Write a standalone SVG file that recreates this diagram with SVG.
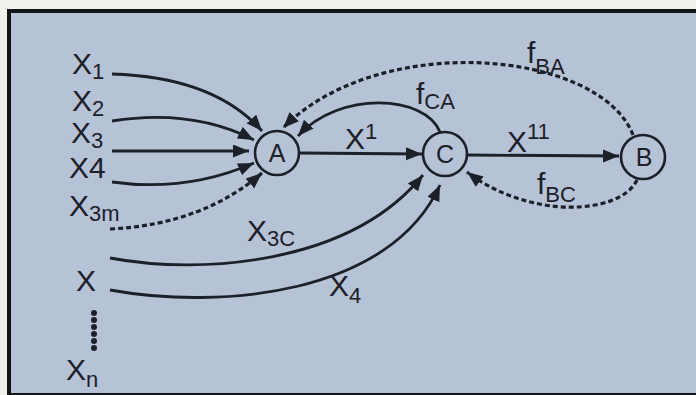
<svg xmlns="http://www.w3.org/2000/svg" width="696" height="395" viewBox="0 0 696 395">
<defs>
<style>
.ln{fill:none;stroke:#1c2029;stroke-width:2.8}
.ds{fill:none;stroke:#1c2029;stroke-width:3.2;stroke-dasharray:5 3}
.nd{fill:none;stroke:#1c2029;stroke-width:2.6}
text{font-family:"Liberation Sans",Arial,sans-serif;fill:#1c2029;font-size:30px}
.sb{font-size:22px}
.cl{font-size:25px;text-anchor:middle}
</style>
<marker id="ah" markerUnits="userSpaceOnUse" markerWidth="18" markerHeight="14" refX="16" refY="6.5" orient="auto">
<path d="M0,0 L16,6.5 L0,13 Z" fill="#1c2029"/>
</marker>
</defs>
<rect x="0" y="0" width="696" height="395" fill="#f3f1ec"/>
<rect x="9" y="11" width="700" height="384" fill="#b6c2d5" stroke="#141518" stroke-width="4"/>

<g id="connectors">
<path class="ln" d="M112,74 C180,76 230,95 262,131" marker-end="url(#ah)"/>
<path class="ln" d="M112,121 C170,112 215,120 254,140" marker-end="url(#ah)"/>
<path class="ln" d="M112,151 L249,151" marker-end="url(#ah)"/>
<path class="ln" d="M112,182 C170,190 215,180 254,163" marker-end="url(#ah)"/>
<path class="ds" d="M110,229 C175,226 225,205 262,173" marker-end="url(#ah)"/>
<path class="ln" d="M300,153 L422,154" marker-end="url(#ah)"/>
<path class="ln" d="M440,132 C425,95 340,90 298,136" marker-end="url(#ah)"/>
<path class="ds" d="M633,135 C600,50 380,30 283,128" marker-end="url(#ah)"/>
<path class="ln" d="M467,155 L619,156" marker-end="url(#ah)"/>
<path class="ds" d="M637,180 C620,215 530,220 467,172" marker-end="url(#ah)"/>
<path class="ln" d="M110,258 C200,275 350,265 423,175" marker-end="url(#ah)"/>
<path class="ln" d="M110,290 C220,310 390,295 440,185" marker-end="url(#ah)"/>
</g>

<g id="node-A"><circle class="nd" cx="277" cy="153" r="22"/><text class="cl" x="277" y="162">A</text></g>
<g id="node-C"><circle class="nd" cx="445" cy="154" r="22"/><text class="cl" x="445" y="163">C</text></g>
<g id="node-B"><circle class="nd" cx="643" cy="157" r="22"/><text class="cl" x="644" y="166">B</text></g>

<g id="labels">
<text x="72" y="74">X<tspan class="sb" dy="5">1</tspan></text>
<text x="72" y="111">X<tspan class="sb" dy="5">2</tspan></text>
<text x="71" y="143">X<tspan class="sb" dy="5">3</tspan></text>
<text x="69" y="178">X4</text>
<text x="69" y="216">X<tspan class="sb" dy="5">3m</tspan></text>
<text x="247" y="241">X<tspan class="sb" dy="5">3C</tspan></text>
<text x="329" y="296">X<tspan class="sb" dy="7">4</tspan></text>
<text x="76" y="291">X</text>
<text x="66" y="380">X<tspan class="sb" dy="7">n</tspan></text>
<text x="345" y="149">X<tspan class="sb" dy="-10">1</tspan></text>
<text x="507" y="152">X<tspan class="sb" dy="-13">11</tspan></text>
<text x="416" y="104">f<tspan class="sb" dy="5">CA</tspan></text>
<text x="527" y="63">f<tspan class="sb" dy="11">BA</tspan></text>
<text x="537" y="194">f<tspan class="sb" dy="8">BC</tspan></text>
</g>
<g id="dots" fill="#1c2029">
<circle cx="94" cy="313" r="3"/><circle cx="94" cy="320" r="3"/><circle cx="94" cy="327" r="3"/>
<circle cx="94" cy="334" r="3"/><circle cx="94" cy="341" r="3"/><circle cx="94" cy="348" r="3"/>
</g>
</svg>
